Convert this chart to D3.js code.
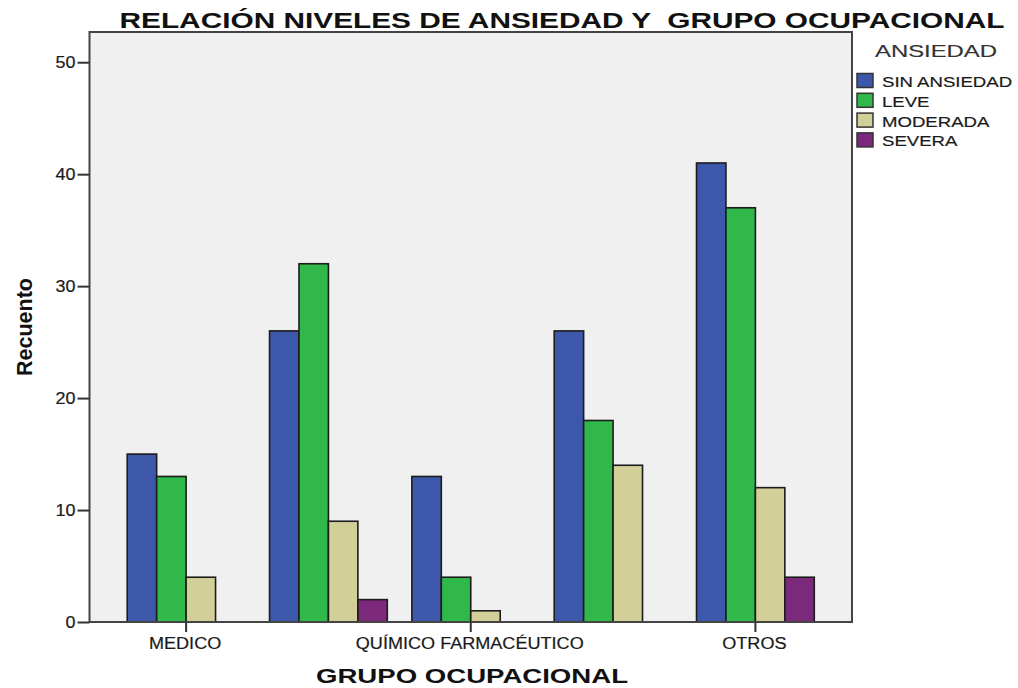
<!DOCTYPE html>
<html>
<head>
<meta charset="utf-8">
<script src="https://cdn.jsdelivr.net/npm/d3@7"></script>
<style>
  html, body { margin: 0; padding: 0; background: #ffffff; }
  svg { display: block; font-family: "Liberation Sans", Arial, sans-serif; }
  text { white-space: pre; }
</style>
</head>
<body>
<svg id="chart" width="1018" height="688"></svg>
<script>
// Recuento por grupo ocupacional y nivel de ansiedad
const groupLabels = ["MEDICO", "", "QUÍMICO FARMACÉUTICO", "", "OTROS"];
const seriesNames = ["SIN ANSIEDAD", "LEVE", "MODERADA", "SEVERA"];
const sinAnsiedad = [15, 26, 13, 26, 41];
const leve        = [13, 32, 4, 18, 37];
const moderada    = [4, 9, 1, 14, 12];
const severa      = [0, 2, 0, 0, 4];
const yTicks      = [0, 10, 20, 30, 40, 50];
const seriesColors = ["#3d58ab", "#30b84a", "#d3cf98", "#7c297c"];

const seriesValues = [sinAnsiedad, leve, moderada, severa];
const rows = groupLabels.map((label, gi) => ({
  gi,
  label,
  values: seriesValues.map((vals, si) => ({ si, value: vals[gi] }))
}));

const svg = d3.select("#chart");
const plot = { left: 89.5, right: 852, top: 32, bottom: 622 };

const x0 = d3.scaleBand()
  .domain(d3.range(groupLabels.length))
  .range([plot.left, plot.right])
  .paddingInner(0.1725)
  .paddingOuter(0.265);

const x1 = d3.scaleBand()
  .domain(d3.range(seriesNames.length))
  .range([0, x0.bandwidth()])
  .padding(0);

const y = d3.scaleLinear()
  .domain([0, 52.7])
  .range([plot.bottom, plot.top]);

const color = d3.scaleOrdinal().domain(d3.range(seriesNames.length)).range(seriesColors);

// plot background
svg.append("rect")
  .attr("x", plot.left).attr("y", plot.top)
  .attr("width", plot.right - plot.left)
  .attr("height", plot.bottom - plot.top)
  .attr("fill", "#f0f0f0");

// bars
const groups = svg.append("g").selectAll("g")
  .data(rows)
  .join("g")
  .attr("transform", d => `translate(${x0(d.gi)},0)`);

groups.selectAll("rect")
  .data(d => d.values.filter(v => v.value > 0))
  .join("rect")
  .attr("x", d => x1(d.si))
  .attr("y", d => y(d.value))
  .attr("width", x1.bandwidth())
  .attr("height", d => y(0) - y(d.value))
  .attr("fill", d => color(d.si))
  .attr("stroke", "#1c1c1c")
  .attr("stroke-width", 1.6);

// frame
svg.append("rect")
  .attr("x", plot.left).attr("y", plot.top)
  .attr("width", plot.right - plot.left)
  .attr("height", plot.bottom - plot.top)
  .attr("fill", "none")
  .attr("stroke", "#444")
  .attr("stroke-width", 2);

// y axis
const yAxis = d3.axisLeft(y).tickValues(yTicks).tickSize(12).tickPadding(0).tickFormat(d3.format("d"));
const gy = svg.append("g").attr("transform", `translate(${plot.left},0)`).call(yAxis);
gy.select(".domain").remove();
gy.selectAll(".tick line").attr("stroke", "#333").attr("stroke-width", 2);
gy.selectAll(".tick text")
  .attr("x", null)
  .attr("transform", "translate(-14,0) scale(1.12,1)")
  .attr("font-size", 16)
  .attr("fill", "#1a1a1a")
  .attr("stroke", "#1a1a1a")
  .attr("stroke-width", 0.2)
  .attr("font-family", "Liberation Sans, Arial, sans-serif");

// x axis: ticks only where a label is shown
const xAxis = d3.axisBottom(x0)
  .tickValues(d3.range(groupLabels.length).filter(i => groupLabels[i] !== ""))
  .tickFormat(i => groupLabels[i])
  .tickSize(10)
  .tickPadding(0);
const gx = svg.append("g").attr("transform", `translate(0,${plot.bottom})`).call(xAxis);
gx.select(".domain").remove();
gx.selectAll(".tick line").attr("stroke", "#333").attr("stroke-width", 2);
gx.selectAll(".tick text")
  .attr("y", null).attr("dy", null)
  .attr("transform", "translate(-1,27) scale(1.13,1)")
  .attr("font-size", 16)
  .attr("fill", "#1a1a1a")
  .attr("stroke", "#1a1a1a")
  .attr("stroke-width", 0.2)
  .attr("font-family", "Liberation Sans, Arial, sans-serif");

// title
svg.append("text")
  .attr("x", 562).attr("y", 28)
  .attr("text-anchor", "middle")
  .attr("font-size", 22.5)
  .attr("font-weight", "bold")
  .attr("fill", "#111")
  .attr("textLength", 885)
  .attr("lengthAdjust", "spacingAndGlyphs")
  .text("RELACIÓN NIVELES DE ANSIEDAD Y  GRUPO OCUPACIONAL");

// axis titles
svg.append("text")
  .attr("x", 472).attr("y", 683)
  .attr("text-anchor", "middle")
  .attr("font-size", 21)
  .attr("font-weight", "bold")
  .attr("fill", "#111")
  .attr("textLength", 312)
  .attr("lengthAdjust", "spacingAndGlyphs")
  .text("GRUPO OCUPACIONAL");

svg.append("text")
  .attr("transform", "translate(32,327) rotate(-90)")
  .attr("text-anchor", "middle")
  .attr("font-size", 22)
  .attr("font-weight", "bold")
  .attr("fill", "#111")
  .attr("textLength", 98)
  .attr("lengthAdjust", "spacingAndGlyphs")
  .text("Recuento");

// legend
const legend = svg.append("g");
legend.append("text")
  .attr("x", 936).attr("y", 57)
  .attr("text-anchor", "middle")
  .attr("font-size", 16.5)
  .attr("fill", "#333")
  .attr("stroke", "#333")
  .attr("stroke-width", 0.15)
  .attr("textLength", 122)
  .attr("lengthAdjust", "spacingAndGlyphs")
  .text("ANSIEDAD");

const items = legend.selectAll("g.item")
  .data(seriesNames)
  .join("g")
  .attr("class", "item")
  .attr("transform", (d, i) => `translate(857,${73.5 + i * 19.8})`);

items.append("rect")
  .attr("width", 16).attr("height", 14)
  .attr("fill", (d, i) => color(i))
  .attr("stroke", "#333")
  .attr("stroke-width", 1.5);

items.append("text")
  .attr("transform", "translate(25,13.5) scale(1.24,1)")
  .attr("font-size", 15)
  .attr("fill", "#1a1a1a")
  .attr("stroke", "#1a1a1a")
  .attr("stroke-width", 0.2)
  .text(d => d);
</script>
</body>
</html>
